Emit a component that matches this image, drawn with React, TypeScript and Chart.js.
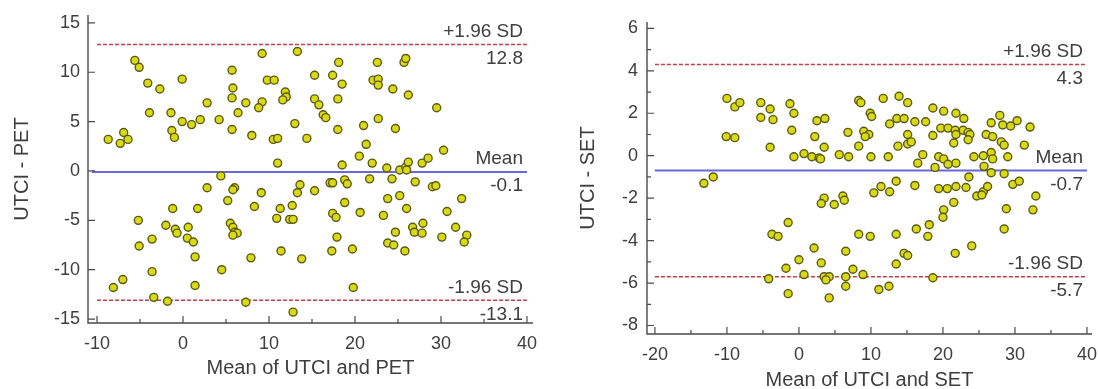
import React, { useEffect, useRef } from 'react';
import { Chart, registerables } from 'chart.js';
Chart.register(...registerables);

const FONT = '"Liberation Sans", Arial, Helvetica, sans-serif';
const TEXT = '#3e3e3e';
const AXIS = '#4a4a4a';
const POINT_FILL = '#dada14';
const POINT_EDGE = '#5a5a12';
const LIMIT_COLOR = '#c0404e';
const MEAN_COLOR = 'rgb(104,104,214)';

// ---------- Left panel: UTCI vs PET ----------
const petMean = [
  -8.7, -7.3, -6.9, -6.4, -5.6, -5.1, -4.1, -2.7, -3.9, -0.1, -1.4, -1.3, -1.0, -0.1, 1.0, 2.0, 2.8, 4.2, 5.7, 5.8,
  5.7, 6.4, 5.7, 7.3, 8.0, 9.2, 9.8, 10.6, 9.2, 8.8, 10.5, 11.0, 11.0, 4.4, 2.8, 6.0, 5.8, 9.1, 5.2, 13.3,
  11.9, 12.0, 11.6, 15.3, 17.4, 18.1, 18.5, 22.6, 22.1, 22.7, 22.7, 25.7, 25.9, 24.4, 26.2, 15.3, 15.8, 18.0, 16.3, 16.6,
  29.5, 13.0, 14.4, 18.0, 21.0, 22.7, 24.7, 21.3, 20.5, 18.5, 22.0, 23.7, 25.2, 25.9, 26.2, 26.0, 27.8, 28.5, 30.3, 13.6,
  13.3, 15.3, 17.1, 17.4, 18.8, 19.1, 21.7, 24.3, 27.0, 29.0, 29.4, 23.8, 25.2, 32.4, 11.3, 12.7, 10.9, 12.4, 12.8, 17.4,
  17.8, 18.8, 20.6, 23.3, 26.0, 30.7, 31.7, 33.0, 32.7, 30.1, 27.9, 26.7, 26.9, 27.8, 24.7, 23.8, 24.5, 25.8, 17.9, 17.3,
  19.7, 11.4, 13.8, 19.8, 12.8, 8.3, -1.2, 1.7, -5.2, -2.0, -0.9, -0.7, 0.6, 0.5, 1.2, 5.5, 5.8, 6.0, 6.3, 5.8,
  -3.6, -5.1, 1.4, 7.9, -3.6, 4.5, -7.0, -8.1, 1.4, -3.4, -1.8, 7.3,
];
const petDiff = [
  3.2, 2.8, 3.9, 3.2, 11.2, 10.5, 8.9, 8.3, 5.9, 9.3, 5.9, 4.1, 3.4, 5.0, 4.7, 5.2, 6.9, 5.2, 10.2, 8.4,
  7.4, 5.9, 4.2, 6.9, 3.6, 11.9, 9.2, 9.2, 7.0, 6.4, 3.2, 3.3, 0.8, -0.5, -1.7, -1.7, -1.9, -2.2, -3.0, 12.1,
  8.0, 7.5, 7.2, 9.7, 9.7, 11.0, 8.8, 11.0, 9.2, 9.3, 8.7, 11.0, 11.4, 8.3, 7.7, 7.3, 6.7, 7.3, 5.7, 5.4,
  6.4, 4.8, 3.3, 4.2, 4.6, 5.3, 4.3, 2.7, 1.5, 0.6, 0.8, 0.3, 0.1, 0.4, 0.9, 0.1, 0.8, 1.3, 2.1, -1.4,
  -2.2, -2.0, -1.2, -1.2, -0.9, -1.3, -0.8, -0.8, -1.1, -1.6, -1.5, -2.8, -2.5, -2.8, -3.8, -3.5, -4.8, -4.9, -4.9, -4.3,
  -4.7, -3.2, -4.2, -4.5, -3.8, -4.1, -5.7, -6.5, -7.2, -6.7, -5.3, -5.7, -6.2, -6.3, -6.2, -7.3, -7.5, -8.1, -6.7, -8.1,
  -7.9, -8.1, -8.9, -11.8, -14.3, -3.6, -3.8, -3.8, -5.0, -5.5, -5.9, -6.3, -5.7, -6.8, -7.2, -5.3, -5.7, -6.2, -6.3, -6.5,
  -6.9, -7.6, -8.7, -8.8, -10.2, -10.0, -11.0, -11.8, -11.6, -12.8, -13.2, -13.3,
];
const petLimits = [12.8, -0.1, -13.1];
const petLimitNames = ['+1.96 SD', 'Mean', '-1.96 SD'];
const petLimitTexts = ['12.8', '-0.1', '-13.1'];
const petXTicks = [-10, 0, 10, 20, 30, 40];
const petXMinor = [-5, 5, 15, 25, 35];
const petYTicks = [-15, -10, -5, 0, 5, 10, 15];
const petYMinor: number[] = [];

// ---------- Right panel: UTCI vs SET ----------
const setMean = [
  -10.0, -8.9, -8.2, -10.1, -8.9, -13.2, -11.9, -5.3, -4.0, -5.3, -3.6, -4.0, -1.25, -0.7, -1.0, -0.7, 0.7, 1.8, 2.8, 3.0,
  2.2, 3.5, 2.5, 3.6, 3.5, 8.3, 8.6, 11.7, 13.9, 15.1, 9.9, 10.1, 6.8, 9.0, 9.7, 9.2, 8.3, 5.6, 6.9, 10.0,
  12.4, 12.6, 13.6, 14.6, 16.1, 17.6, 15.1, 13.75, 15.1, 15.6, 18.6, 20.1, 21.8, 22.9, 19.7, 20.7, 21.7, 22.8, 23.5, 23.75,
  21.8, 21.5, 23.5, 18.6, 17.2, 16.5, 19.4, 20.1, 21.8, 20.7, 18.9, 26.7, 27.9, 28.3, 29.4, 30.3, 32.1, 26.0, 26.9, 28.1,
  28.5, 31.3, 24.3, 25.6, 26.7, 26.9, 29.0, 25.7, 26.7, 28.5, 23.6, 21.8, 20.6, 19.4, 16.1, 13.5, 12.6, 11.4, 10.4, 25.6,
  26.2, 29.7, 30.6, 32.9, 6.1, 23.2, 24.7, 25.4, 32.5, 28.8, 28.5, 21.5, 20.1, 20.0, 4.9, 6.3, 8.3, 9.9, 13.5, 16.3,
  18.1, 17.9, 2.1, 6.5, 14.6, 15.1, 21.7, 24.0, 3.1, 13.5, 7.5, 8.9, 3.5, 4.2, 3.75, 6.5, 6.5, 11.1, 12.5, 4.2,
  18.6, -1.5, -3.75, -2.9, 0.0, -1.8, 0.7, -4.2, -1.5, 3.1,
];
const setDiff = [
  2.7, 2.3, 2.5, 0.9, 0.85, -1.3, -1.0, 2.5, 2.2, 1.8, 1.7, 0.4, 2.45, 2.0, 1.2, -0.05, 0.1, -0.05, -0.1, -0.15,
  0.9, 0.4, 1.65, 1.75, -2.0, 2.6, 2.5, 2.7, 2.8, 2.5, 2.0, 1.85, 1.1, 1.15, 1.0, 0.9, 0.45, 0.05, -0.05, -0.05,
  -0.05, 1.5, 1.75, 1.75, 1.6, 1.6, 1.0, 0.45, 0.55, 0.65, 2.25, 2.1, 2.0, 1.75, 1.3, 1.3, 1.2, 1.2, 1.1, 1.0,
  1.0, 0.6, 0.75, 0.95, 0.05, -0.35, -0.05, -0.15, -0.35, -0.4, -0.55, 1.55, 1.9, 1.45, 1.4, 1.65, 1.35, 1.0, 0.9, 0.65,
  0.5, 0.5, -0.05, 0.0, 0.15, -0.15, -0.05, -0.5, -0.8, -0.85, -1.0, -1.45, -1.55, -1.55, -1.4, -1.2, -1.7, -1.45, -1.75, -1.7,
  -1.45, -1.35, -1.2, -1.9, -1.9, -1.5, -1.9, -1.85, -2.55, -2.5, -3.45, -2.2, -2.55, -2.9, -2.3, -2.1, -3.7, -3.8, -3.7, -3.45,
  -3.25, -3.8, -4.35, -4.5, -4.6, -4.7, -4.6, -4.25, -5.05, -5.1, -5.35, -5.6, -5.7, -5.7, -5.85, -5.7, -6.15, -6.3, -6.15, -6.7,
  -5.75, -3.15, -3.7, -3.8, -4.9, -5.3, -5.6, -5.8, -6.5, -2.25,
];
const setLimits = [4.3, -0.7, -5.7];
const setLimitNames = ['+1.96 SD', 'Mean', '-1.96 SD'];
const setLimitTexts = ['4.3', '-0.7', '-5.7'];
const setXTicks = [-20, -10, 0, 10, 20, 30, 40];
const setXMinor = [-15, -5, 5, 15, 25, 35];
const setYTicks = [-8, -6, -4, -2, 0, 2, 4, 6];
const setYMinor = [-7, -5, -3, -1, 1, 3, 5];

type Geo = {
  left: number;
  width: number;
  height: number;
  yAxisWidth: number;
  xAxisHeight: number;
  padTop: number;
  padRight: number;
  xMin: number;
  xMax: number;
  yMin: number;
  yMax: number;
  yTitlePad: number;
  xTitlePadBottom: number;
  xTickPad: number;
  yTickPad: number;
  dashFrom: number;
  meanFrom: number;
  lineTo: number;
};

type Props = {
  geo: Geo;
  meanX: number[];
  diff: number[];
  limits: number[];
  limitNames: string[];
  limitTexts: string[];
  xTicks: number[];
  xMinor: number[];
  yTicks: number[];
  yMinor: number[];
  xTitle: string;
  yTitle: string;
};

function BlandAltman(props: Props) {
  const ref = useRef<HTMLCanvasElement>(null);
  useEffect(() => {
    const p = props;
    const g = p.geo;
    const pts = p.meanX.map((x, i) => ({ x, y: p.diff[i] }));
    const [upper, mean, lower] = p.limits;

    const overlay = {
      id: 'baOverlay',
      afterDatasetsDraw(chart: any) {
        const { ctx, chartArea } = chart;
        const xs = chart.scales.x;
        const ys = chart.scales.y;
        ctx.save();
        ctx.strokeStyle = AXIS;
        ctx.lineWidth = 1.4;
        ctx.beginPath();
        ctx.moveTo(chartArea.left, chartArea.top);
        ctx.lineTo(chartArea.left, chartArea.bottom);
        ctx.lineTo(chartArea.right, chartArea.bottom);
        ctx.stroke();
        ctx.lineWidth = 1.2;
        ctx.beginPath();
        for (const v of p.xTicks) {
          const px = xs.getPixelForValue(v);
          ctx.moveTo(px, chartArea.bottom);
          ctx.lineTo(px, chartArea.bottom - 7);
        }
        for (const v of p.xMinor) {
          const px = xs.getPixelForValue(v);
          ctx.moveTo(px, chartArea.bottom);
          ctx.lineTo(px, chartArea.bottom - 4);
        }
        for (const v of p.yTicks) {
          const py = ys.getPixelForValue(v);
          ctx.moveTo(chartArea.left, py);
          ctx.lineTo(chartArea.left + 7, py);
        }
        for (const v of p.yMinor) {
          const py = ys.getPixelForValue(v);
          ctx.moveTo(chartArea.left, py);
          ctx.lineTo(chartArea.left + 4, py);
        }
        ctx.stroke();
        ctx.fillStyle = TEXT;
        ctx.font = `19px ${FONT}`;
        ctx.textAlign = 'right';
        ctx.textBaseline = 'middle';
        const tx = xs.getPixelForValue(g.lineTo) - 4;
        p.limits.forEach((v, i) => {
          const py = ys.getPixelForValue(v);
          ctx.fillText(p.limitNames[i], tx, py - 13);
          ctx.fillText(p.limitTexts[i], tx, py + 14);
        });
        ctx.restore();
      },
    };

    const tickFont = { family: FONT, size: 18 };
    const titleFont = { family: FONT, size: 20 };
    const chart = new Chart(ref.current as HTMLCanvasElement, {
      type: 'scatter',
      data: {
        datasets: [
          {
            type: 'scatter',
            data: pts,
            pointRadius: 4,
            pointBackgroundColor: POINT_FILL,
            pointBorderColor: POINT_EDGE,
            pointBorderWidth: 1.4,
          } as any,
          {
            type: 'line',
            data: [{ x: g.dashFrom, y: upper }, { x: g.lineTo, y: upper }],
            borderColor: LIMIT_COLOR,
            borderDash: [4, 2],
            borderWidth: 1.5,
            pointRadius: 0,
          } as any,
          {
            type: 'line',
            data: [{ x: g.meanFrom, y: mean }, { x: g.lineTo, y: mean }],
            borderColor: MEAN_COLOR,
            borderWidth: 2,
            pointRadius: 0,
          } as any,
          {
            type: 'line',
            data: [{ x: g.dashFrom, y: lower }, { x: g.lineTo, y: lower }],
            borderColor: LIMIT_COLOR,
            borderDash: [4, 2],
            borderWidth: 1.5,
            pointRadius: 0,
          } as any,
        ],
      },
      options: {
        responsive: false,
        animation: false,
        events: [],
        layout: { padding: { left: 0, top: g.padTop, right: g.padRight, bottom: 0 } },
        plugins: { legend: { display: false }, tooltip: { enabled: false } },
        scales: {
          x: {
            type: 'linear',
            min: g.xMin,
            max: g.xMax,
            grid: { display: false },
            border: { display: false },
            afterBuildTicks: (s: any) => {
              s.ticks = p.xTicks.map((v) => ({ value: v }));
            },
            afterFit: (s: any) => {
              s.height = g.xAxisHeight;
              s.paddingLeft = 0;
              s.paddingRight = 0;
            },
            ticks: { color: TEXT, font: tickFont, padding: g.xTickPad, maxRotation: 0, autoSkip: false },
            title: {
              display: true,
              text: p.xTitle,
              color: TEXT,
              font: titleFont,
              padding: { top: 0, bottom: g.xTitlePadBottom },
            },
          },
          y: {
            type: 'linear',
            min: g.yMin,
            max: g.yMax,
            grid: { display: false },
            border: { display: false },
            afterBuildTicks: (s: any) => {
              s.ticks = p.yTicks.map((v) => ({ value: v }));
            },
            afterFit: (s: any) => {
              s.width = g.yAxisWidth;
              s.paddingTop = 0;
              s.paddingBottom = 0;
            },
            ticks: { color: TEXT, font: tickFont, padding: g.yTickPad, autoSkip: false },
            title: {
              display: true,
              text: p.yTitle,
              color: TEXT,
              font: titleFont,
              padding: { top: g.yTitlePad, bottom: 0 },
            },
          },
        },
      },
      plugins: [overlay],
    } as any);
    return () => chart.destroy();
  }, []);
  return (
    <canvas
      ref={ref}
      width={props.geo.width}
      height={props.geo.height}
      style={{ position: 'absolute', left: props.geo.left, top: 0, width: props.geo.width, height: props.geo.height }}
    />
  );
}

const leftGeo: Geo = {
  left: 0,
  width: 549,
  height: 389,
  yAxisWidth: 88,
  xAxisHeight: 66,
  padTop: 15,
  padRight: 16,
  xMin: -11.05,
  xMax: 40.7,
  yMin: -15.4,
  yMax: 15.8,
  yTitlePad: 10,
  xTitlePadBottom: 9,
  xTickPad: 2,
  yTickPad: 0,
  dashFrom: -10,
  meanFrom: -10.6,
  lineTo: 40,
};

const rightGeo: Geo = {
  left: 549,
  width: 549,
  height: 392,
  yAxisWidth: 98,
  xAxisHeight: 58,
  padTop: 22,
  padRight: 6,
  xMin: -21.1,
  xMax: 40.7,
  yMin: -8.4,
  yMax: 6.3,
  yTitlePad: 27,
  xTitlePadBottom: 0,
  xTickPad: 2,
  yTickPad: 1,
  dashFrom: -20,
  meanFrom: -20,
  lineTo: 40,
};

export default function App() {
  return (
    <div style={{ position: 'fixed', left: 0, top: 0, width: 1098, height: 389, background: '#ffffff', overflow: 'hidden' }}>
      <BlandAltman
        geo={leftGeo}
        meanX={petMean}
        diff={petDiff}
        limits={petLimits}
        limitNames={petLimitNames}
        limitTexts={petLimitTexts}
        xTicks={petXTicks}
        xMinor={petXMinor}
        yTicks={petYTicks}
        yMinor={petYMinor}
        xTitle="Mean of UTCI and PET"
        yTitle="UTCI - PET"
      />
      <BlandAltman
        geo={rightGeo}
        meanX={setMean}
        diff={setDiff}
        limits={setLimits}
        limitNames={setLimitNames}
        limitTexts={setLimitTexts}
        xTicks={setXTicks}
        xMinor={setXMinor}
        yTicks={setYTicks}
        yMinor={setYMinor}
        xTitle="Mean of UTCI and SET"
        yTitle="UTCI - SET"
      />
    </div>
  );
}
